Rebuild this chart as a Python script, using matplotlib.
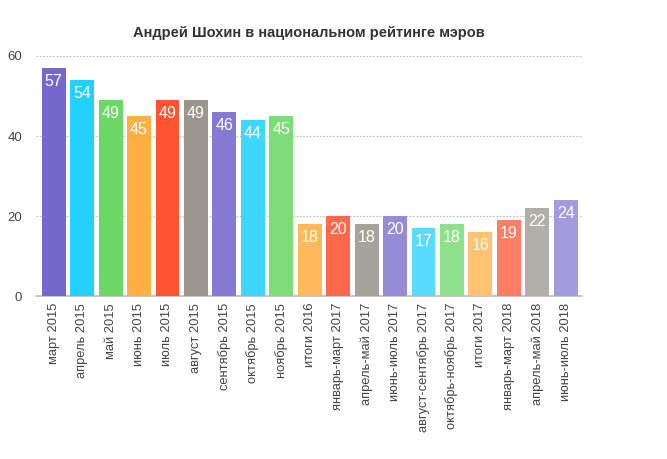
import matplotlib.pyplot as plt
from matplotlib.colors import to_rgba

labels = ['март 2015', 'апрель 2015', 'май 2015', 'июнь 2015', 'июль 2015',
          'август 2015', 'сентябрь 2015', 'октябрь 2015', 'ноябрь 2015',
          'итоги 2016', 'январь-март 2017', 'апрель-май 2017', 'июнь-июль 2017',
          'август-сентябрь 2017', 'октябрь-ноябрь 2017', 'итоги 2017',
          'январь-март 2018', 'апрель-май 2018', 'июнь-июль 2018']
values = [57, 54, 49, 45, 49, 49, 46, 44, 45, 18, 20, 18, 20, 17, 18, 16, 19, 22, 24]

base_colors = ['#7468CC', '#22D1FF', '#6CD867', '#FFAF44', '#FF5433', '#9A968E']
alphas = [1.0, 0.88, 0.76, 0.66]

plt.rcParams['font.family'] = ['Liberation Sans', 'DejaVu Sans']

fig = plt.figure(figsize=(6.67, 4.59), dpi=100)
ax = fig.add_axes([0.054, 0.355, 0.819, 0.523])

colors = []
for i in range(len(values)):
    c = to_rgba(base_colors[i % 6])
    a = alphas[i // 6]
    # смешиваем с белым
    colors.append(tuple(a * c[k] + (1 - a) for k in range(3)))

x = list(range(len(values)))
ax.bar(x, values, width=0.84, color=colors, zorder=3)

for xi, v in zip(x, values):
    ax.annotate(str(v), (xi, v), xytext=(0, -4.5), textcoords='offset points',
                ha='center', va='top', color='white', fontsize=11.5, zorder=4)

ax.set_xlim(-0.62, 18.58)
ax.set_ylim(0, 60)
ax.set_yticks([0, 20, 40, 60])
ax.set_xticks(x)
ax.set_xticklabels(labels, rotation=90, fontsize=9.3, color='#444444')
ax.tick_params(axis='y', length=0, labelsize=9.5, labelcolor='#444444', pad=10)
ax.tick_params(axis='x', length=0, pad=5)
ax.grid(axis='y', linestyle=(0, (1.5, 1.5)), color='#bbbbbb', linewidth=0.8, zorder=0)

for s in ['top', 'right', 'left']:
    ax.spines[s].set_visible(False)
ax.spines['bottom'].set_color('#bbbbbb')
ax.spines['bottom'].set_linewidth(1.2)

fig.text(0.463, 0.928, 'Андрей Шохин в национальном рейтинге мэров',
         ha='center', va='center', fontsize=10.5, fontweight='bold', color='#333333')

fig.savefig('out.png', dpi=100)
